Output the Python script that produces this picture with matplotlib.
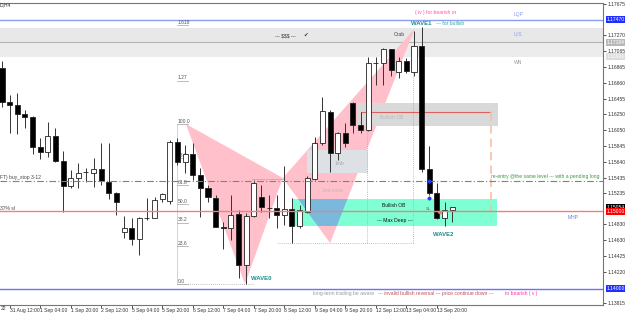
import matplotlib
matplotlib.use("Agg")
import matplotlib.pyplot as plt
from matplotlib.patches import Polygon, Rectangle
from matplotlib import transforms
import numpy as np

plt.rcParams["font.family"] = ["Liberation Sans", "DejaVu Sans"]

# ---- H4 candles (31 Aug 08:00 .. 13 Sep 20:00) ----
opens = [1.16849, 1.16410, 1.16371, 1.16255, 1.16216, 1.15829, 1.15764, 1.15971, 1.15648, 1.15325,
         1.15429, 1.15506, 1.15493, 1.15545, 1.15377, 1.15235, 1.14732, 1.14783, 1.14641, 1.14912,
         1.14912, 1.15158, 1.15132, 1.15893, 1.15635, 1.15739, 1.15467, 1.15300, 1.15170, 1.14796,
         1.14783, 1.14964, 1.14305, 1.14938, 1.15183, 1.15041, 1.15041, 1.14951, 1.15028, 1.14809,
         1.14990, 1.15416, 1.15880, 1.16281, 1.15751, 1.16010, 1.16397, 1.16113, 1.16048, 1.16913,
         1.16913, 1.17094, 1.16797, 1.16939, 1.16797, 1.17133, 1.15545, 1.15235, 1.14912, 1.15016]
highs = [1.16939, 1.16500, 1.16526, 1.16307, 1.16225, 1.15945, 1.16152, 1.16074, 1.15777, 1.15532,
         1.15622, 1.15558, 1.15687, 1.15880, 1.15880, 1.15248, 1.14938, 1.14912, 1.14925, 1.15170,
         1.15183, 1.15230, 1.15919, 1.15945, 1.15855, 1.15880, 1.15558, 1.15338, 1.15209, 1.14861,
         1.15209, 1.15016, 1.14977, 1.15403, 1.15338, 1.15209, 1.15209, 1.15584, 1.15170, 1.15080,
         1.15454, 1.15958, 1.16474, 1.16307, 1.16020, 1.16139, 1.16405, 1.16281, 1.16991, 1.16991,
         1.17107, 1.17100, 1.16991, 1.16978, 1.17326, 1.17378, 1.15842, 1.15364, 1.15119, 1.15058]
lows = [1.16345, 1.16010, 1.15997, 1.16074, 1.15739, 1.15674, 1.15700, 1.15635, 1.14990, 1.15300,
        1.15300, 1.15377, 1.15312, 1.15338, 1.15158, 1.14951, 1.14654, 1.14564, 1.14435, 1.14886,
        1.14912, 1.15119, 1.15093, 1.15596, 1.15493, 1.15403, 1.14925, 1.15119, 1.14790, 1.14512,
        1.14628, 1.14138, 1.14060, 1.14925, 1.14990, 1.14912, 1.14783, 1.14822, 1.14589, 1.14783,
        1.14977, 1.15403, 1.15855, 1.15506, 1.15661, 1.15829, 1.16010, 1.16010, 1.16035, 1.16629,
        1.16629, 1.16745, 1.16720, 1.16784, 1.16745, 1.15506, 1.15209, 1.14905, 1.14809, 1.14861]
closes = [1.16410, 1.16371, 1.16255, 1.16216, 1.15829, 1.15764, 1.15971, 1.15648, 1.15325, 1.15429,
          1.15493, 1.15500, 1.15545, 1.15390, 1.15235, 1.15119, 1.14783, 1.14641, 1.14912, 1.14915,
          1.15145, 1.15222, 1.15893, 1.15635, 1.15739, 1.15467, 1.15300, 1.15183, 1.14796, 1.14783,
          1.14951, 1.14305, 1.14938, 1.15364, 1.15054, 1.15045, 1.14951, 1.15028, 1.14809, 1.15016,
          1.15429, 1.15880, 1.16294, 1.15751, 1.16010, 1.15880, 1.16113, 1.16048, 1.16913, 1.16910,
          1.17094, 1.16823, 1.16939, 1.16810, 1.17133, 1.15545, 1.15235, 1.14912, 1.15016, 1.15054]

time_idx = [1, 5, 9, 13, 17, 21, 25, 29, 33, 37, 41, 45, 49, 53, 57]
time_labels = ["31 Aug 12:00", "1 Sep 04:00", "1 Sep 20:00", "2 Sep 12:00", "5 Sep 04:00",
               "5 Sep 20:00", "6 Sep 12:00", "7 Sep 04:00", "7 Sep 20:00", "8 Sep 12:00",
               "9 Sep 04:00", "9 Sep 20:00", "12 Sep 12:00", "13 Sep 04:00", "13 Sep 20:00"]

price_ticks = [1.17675, 1.17270, 1.17065, 1.16865, 1.16660, 1.16455, 1.16250, 1.16050, 1.15845,
               1.15640, 1.15435, 1.15235, 1.14830, 1.14630, 1.14425, 1.14220, 1.13815]

# fibo retracement of the 0 -> 100 swing
fib_low, fib_high = 1.14060, 1.16126
fib_ratios = [0.0, 0.236, 0.382, 0.5, 0.618, 0.786, 1.0, 1.27, 1.618]
fib_names = ["0.0", "23.6", "38.2", "50.0", "61.8", "78.6", "100.0", "1.27", "1.618"]

# crab XABCD
pat_x = [24.1, 31.85, 36.8, 43.0, 54.1]
pat_y = [1.16126, 1.14060, 1.15429, 1.14589, 1.17360]

# horizontal levels
lqp = 1.17470
us_top, us_mid, wn = 1.17365, 1.17184, 1.16991
buy_stop = 1.15390
sl_level = 1.15000
floor_level = 1.14000
bid = 1.15054
ob_top, ob_bot = 1.15158, 1.14809          # bullish OB (mint)
ob2_top, ob2_bot, ob2_line = 1.16397, 1.16100, 1.16287
mb_top, mb_bot = 1.15790, 1.15493


def at(x, y):
    """screen pixel -> (bar index, price) for annotation placement"""
    return (x - 2) / 7.63, 1.177266 - 0.0001291 * y


fig = plt.figure(figsize=(6.25, 3.15), dpi=100)
ax = fig.add_axes([0, 1 - 305 / 315, 603 / 625, 302 / 315])
ax.set_xlim(-0.262, 78.77)
ax.set_ylim(1.13789, 1.17688)

# ---- zones ----
ax.axhspan(us_mid, us_top, color="#e8e8e8", lw=0, zorder=0)
ax.axhspan(wn, us_mid, color="#ececec", lw=0, zorder=0)
ax.axhline(us_mid, color="#b4b4b4", lw=0.8, zorder=1)
ax.axhline(lqp, color="#8a9ef2", lw=1.0, zorder=1)

tri1 = Polygon(list(zip(pat_x[:3], pat_y[:3])), closed=True, fc="#ffc0cb", ec="none", zorder=2)
tri2 = Polygon(list(zip(pat_x[2:], pat_y[2:])), closed=True, fc="#ffc0cb", ec="none", zorder=2)
ax.add_patch(tri1)
ax.add_patch(tri2)

x0, _ = at(292, 0)
x1, _ = at(497, 0)
mint = Rectangle((x0, ob_bot), x1 - x0, ob_top - ob_bot, fc="#7fffd4", ec="none", zorder=2.5)
ax.add_patch(mint)
overlap = Polygon(list(zip(pat_x[2:], pat_y[2:])), closed=True, fc="#7ab8dc", ec="none", zorder=2.6)
ax.add_patch(overlap)
overlap.set_clip_path(mint)

x0, _ = at(357, 0)
x1, _ = at(498, 0)
ax.add_patch(Rectangle((x0, ob2_bot), x1 - x0, ob2_top - ob2_bot, fc="#d9d9d9", ec="none", zorder=3))
xr0, _ = at(361, 0)
xr1, _ = at(491, 0)
ax.plot([xr0, xr1], [ob2_line, ob2_line], color="#e06060", lw=0.8, zorder=3.2)
ax.plot([xr1, xr1], [ob2_line, sl_level], color="#f7bfa6", lw=1.2, ls=(0, (5, 3)), zorder=3.2)

x0, _ = at(307, 0)
x1, _ = at(368, 0)
ax.add_patch(Rectangle((x0, mb_bot), x1 - x0, mb_top - mb_bot, fc="#dde1e6", ec="none", zorder=3))

# dotted guides
gx0, gy = at(277, 243)
gx1, _ = at(413, 0)
gx2, top2 = at(367, 131)
_, top1 = at(0, 46)
ax.plot([gx0, gx1], [gy, gy], color="#aaaaaa", lw=0.6, ls=(0, (1, 1.5)), zorder=3)
ax.plot([gx2, gx2], [top2, gy], color="#aaaaaa", lw=0.6, ls=(0, (1, 1.5)), zorder=3)
ax.plot([gx1, gx1], [top1, gy], color="#aaaaaa", lw=0.6, ls=(0, (1, 1.5)), zorder=3)

# fibo
fx, _ = at(177, 0)
fx1, _ = at(188, 0)
fx0e, _ = at(253, 0)
ax.plot([fx, fx], [fib_low, fib_high], color="#cccccc", lw=0.6, zorder=3)
for r, name in zip(fib_ratios, fib_names):
    lv = fib_low + r * (fib_high - fib_low)
    ax.plot([fx, fx1], [lv, lv], color="#a0a0a0", lw=0.5, zorder=3)
    ax.text(fx + 0.05, lv + 0.00005, name, fontsize=3.6, color="#555555", ha="left", va="bottom", zorder=3)
ax.plot([fx, fx0e], [fib_low, fib_low], color="#aaaaaa", lw=0.6, ls=(0, (1, 1.5)), zorder=3)

px0, py0 = at(252, 179)
px1, _ = at(283, 0)
ax.plot([px0, px1], [py0, py0], color="#f09ab0", lw=0.7, zorder=3)

# ---- candles ----
o = np.array(opens); c = np.array(closes)
idx = np.arange(len(o))
bull = c >= o
lo = np.minimum(o, c)
hgt = np.maximum(np.abs(c - o), 0.00006)
ax.vlines(idx, lows, highs, color="#333333", lw=0.7, zorder=4)
ax.bar(idx, hgt, bottom=lo, width=0.66, color=np.where(bull, "white", "black"),
       edgecolor="#222222", lw=0.6, zorder=5)

# ---- level lines ----
ax.axhline(buy_stop, color="#55a055", lw=0.8, ls=(0, (6, 2, 1, 2)), zorder=6)
ax.axhline(sl_level, color="#f08080", lw=1.0, zorder=6)
ax.axhline(floor_level, color="#7070ff", lw=1.0, zorder=6)

# ---- texts ----
fs = 3.6
teal = "#1c8c8c"
def put(x, y, s, **kw):
    X, Y = at(x, y)
    kw.setdefault("fontsize", fs)
    kw.setdefault("va", "center")
    ax.text(X, Y, s, zorder=7, clip_on=False, **kw)

put(0, 5, "D,H4", color="#333333")
put(285, 36, "--- $$$ ---", color="#333333", ha="center")
put(306, 35, "\u2714", color="#333333", ha="center", family="DejaVu Sans", fontsize=4)
put(399, 34, "Crab", color="#444444", ha="center")
put(415, 12, "( iv ) for bearish or", color="#ff4fa8")
put(411, 23, "WAVE1", color=teal, fontweight="bold", fontsize=4.3)
put(436, 23, "--- for bullish", color="#2aa6a6")
put(514, 14, "LQP", color="#8a9ef2")
put(514, 34, "U-S", color="#8a9ef2")
put(514, 62, "WN", color="#9a9a9a")
put(380, 117, "Bullish OB", color="#b8b8b8")
put(340, 163, "1mb", color="#a8a8a8", ha="center")
put(333, 190, "2nd zone", color="#b8b8b8", ha="center")
put(394, 205, "Bullish OB", color="#111111", ha="center")
put(395, 220, "--- Max Deep ---", color="#111111", ha="center")
put(600, 176, "re-entry @the same level --- with a pending long", color="#3a9a3a", ha="right")
put(568, 217, "MHP", color="#5f7fee")
put(251, 279, "WAVE0", color=teal, fontweight="bold", fontsize=4.3)
put(433, 235, "WAVE2", color=teal, fontweight="bold", fontsize=4.3)
put(426, 209, "SL", color="#666666", fontsize=3.2)
put(0, 177, "FT) buy_stop 3-12", color="#444444")
put(0, 208, "37% sl", color="#444444")
put(313, 294, "long-term trading be aware", color="#9a9a9a")
put(378, 294, "--- invalid bullish reversal --- price continue down ---", color="#c0504d")
put(505, 294, "to bearish ( v )", color="#ff3399")

mx, my1 = at(429, 181)
_, my2 = at(428, 198)
ax.plot([mx, mx], [my1, my2], ls="none", marker="D", ms=1.6, color="#1a3cff", zorder=7)
ax.plot(*at(439, 212), ls="none", marker="<", ms=2, color="#e08070", zorder=7)

# ---- axes ----
ax.spines["left"].set_visible(False)
for s in ["top", "bottom", "right"]:
    ax.spines[s].set_color("#777777")
    ax.spines[s].set_linewidth(0.8)

ax.yaxis.tick_right()
ax.set_yticks(price_ticks)
ax.set_yticklabels([f"{p:.5f}" for p in price_ticks])
ax.tick_params(axis="y", length=2, width=0.6, pad=1, labelsize=fs, colors="#333333")
ax.set_xticks(time_idx)
ax.set_xticklabels(time_labels)
for lab in ax.get_xticklabels():
    lab.set_ha("left")
ax.tick_params(axis="x", length=2, width=0.6, pad=0.5, labelsize=fs, colors="#333333")
# tail of the previous (scrolled-off) time label
fig.text(0.5 / 625, 1 - 309 / 315, "22", ha="left", va="center", fontsize=fs, color="#333333")

tr = transforms.blended_transform_factory(ax.transAxes, ax.transData)
for val, fc, tc in [(lqp, "#1f2fff", "white"), (us_mid, "#b8b8b8", "white"), (wn, "#dcdcdc", "white"),
                    (bid, "black", "white"), (sl_level, "#ff0000", "white"), (floor_level, "#1f2fff", "white")]:
    ax.text(1.0 + 4 / 603, val, f"{val:.5f}", transform=tr, ha="left", va="center", fontsize=fs,
            color=tc, clip_on=False, zorder=8,
            bbox=dict(boxstyle="square,pad=0.2", fc=fc, ec="none"))

fig.savefig("out.png", dpi=100)
